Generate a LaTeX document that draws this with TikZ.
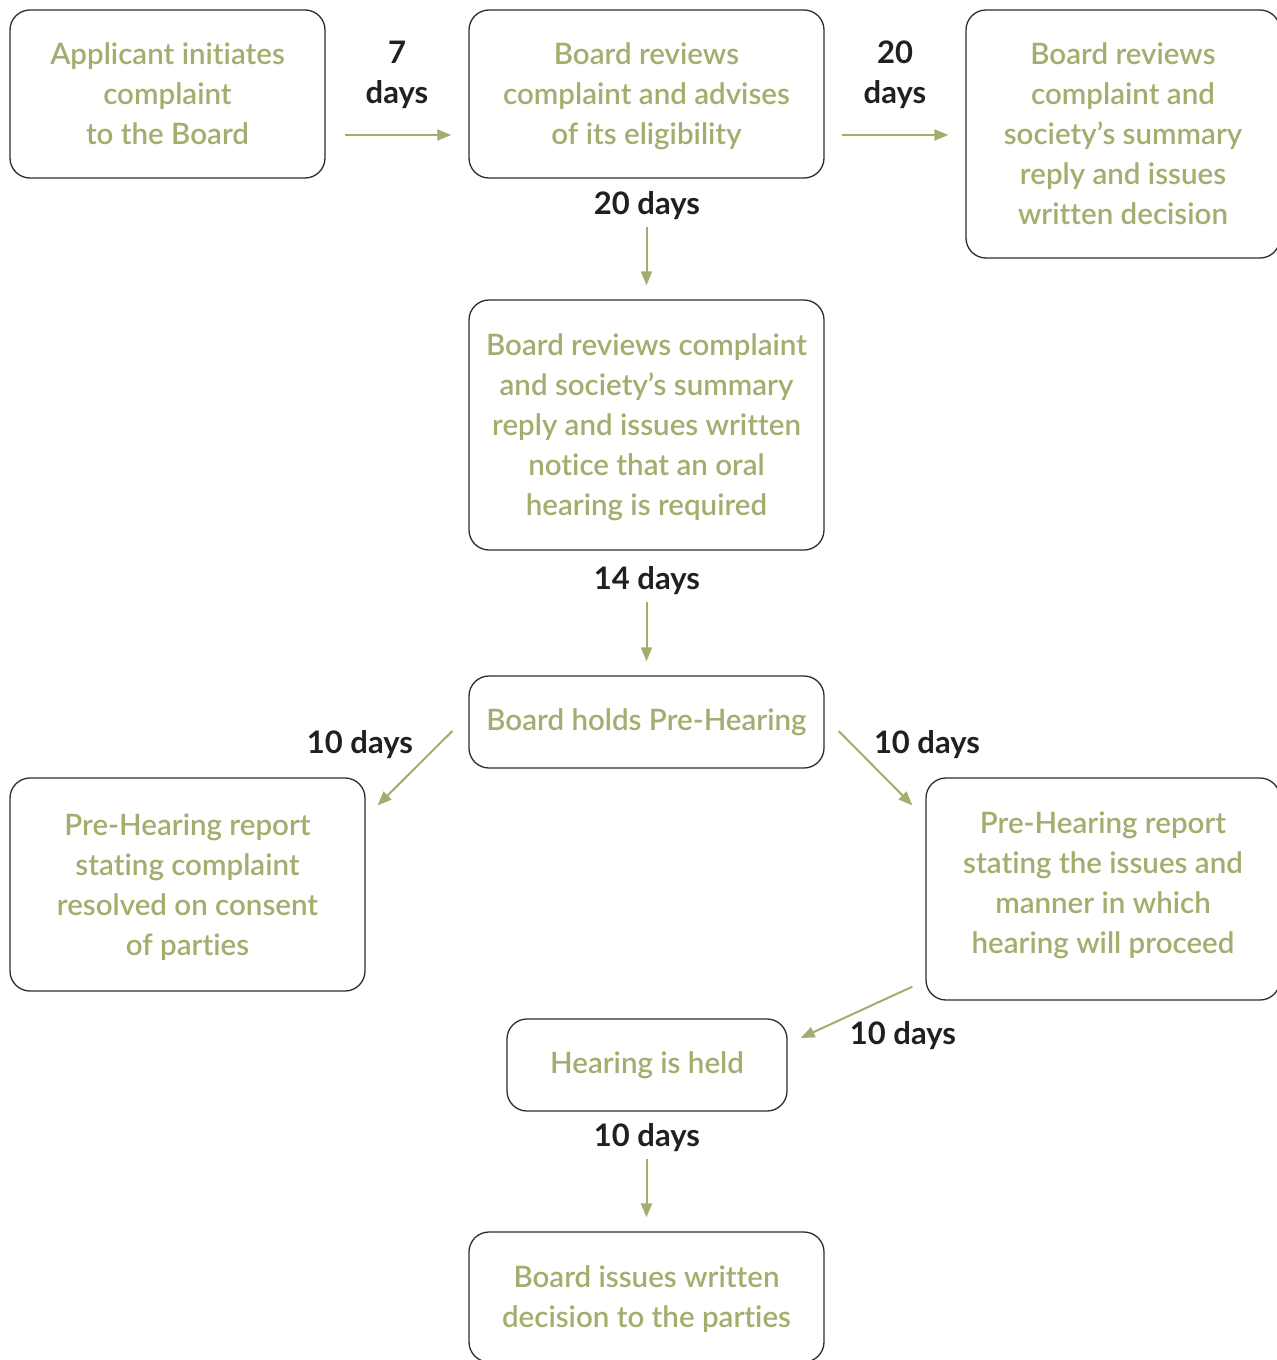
\documentclass[tikz,border=0pt]{standalone}
\usepackage{fontspec}
\setmainfont{Lato}[UprightFont=* Semibold, BoldFont=* Bold, Ligatures=NoCommon]
\usepackage{xcolor}
\usetikzlibrary{arrows.meta,calc}

\definecolor{sage}{RGB}{163,173,110}
\definecolor{inkdark}{RGB}{35,31,32}
\definecolor{boxline}{RGB}{45,45,45}

\tikzset{
  stepbox/.style={draw=boxline, line width=1.3pt, rounded corners=20pt, align=center,
    text=sage, font=\fontsize{29.5}{40}\selectfont, inner sep=0pt,
    execute at begin node=\strut, execute at end node=\strut},
  tallbox/.style={stepbox, text depth=0pt},
  daylabel/.style={text=inkdark, align=center, font=\bfseries\fontsize{31}{40}\selectfont, inner sep=0pt},
  flow/.style={draw=sage, line width=2pt, -{Triangle[length=14pt,width=11pt]}}
}

\begin{document}
\begin{tikzpicture}[x=1pt,y=-1pt]
\useasboundingbox (0,0) rectangle (1277,1360);

%top row
\node[tallbox, minimum width=315pt, minimum height=168pt] (apply) at (167.5,94) {Applicant initiates\\complaint\\to the Board};
\node[tallbox, minimum width=355pt, minimum height=168pt] (elig) at (646.5,94) {Board reviews\\complaint and advises\\of its eligibility};
\node[tallbox, minimum width=314pt, minimum height=248pt] (decide) at (1123,134) {Board reviews\\complaint and\\society's summary\\reply and issues\\written decision};

\node[daylabel] (d7) at (397,75) {7\\days};
\node[daylabel] (d20a) at (895,75) {20\\days};
\draw[flow] ([shift={(19,41)}]apply.east) -- ([shift={(-17,41)}]elig.west);
\draw[flow] ([shift={(17,41)}]elig.east) -- ([shift={(-17,41)}]decide.west |- elig.east);

%middle column
\node[daylabel] (d20b) at (647,206) {20 days};
\node[tallbox, minimum width=355pt, minimum height=250pt] (oral) at (646.5,425) {Board reviews complaint\\and society's summary\\reply and issues written\\notice that an oral\\hearing is required};
\draw[flow, shorten <=7pt, shorten >=14pt] (d20b.south -| oral.north) -- (oral.north);

\node[daylabel] (d14) at (647,581) {14 days};
\node[stepbox, minimum width=355pt, minimum height=92pt] (pre) at (646.5,722) {Board holds Pre-Hearing};
\draw[flow, shorten <=7pt, shorten >=14pt] (d14.south -| pre.north) -- (pre.north);

%split after pre-hearing
\node[tallbox, minimum width=355pt, minimum height=213pt] (settled) at (187.5,884.5) {Pre-Hearing report\\stating complaint\\resolved on consent\\of parties};
\node[stepbox, minimum width=354pt, minimum height=222pt] (proceed) at (1103,889) {Pre-Hearing report\\stating the issues and\\manner in which\\hearing will proceed};
\node[daylabel] (d10a) at (360,745) {10 days};
\node[daylabel] (d10b) at (927,745) {10 days};
\draw[flow] ([shift={(-16,9)}]pre.west) -- ([shift={(12,28)}]settled.north east);
\draw[flow] ([shift={(14,9)}]pre.east) -- ([shift={(-13,28)}]proceed.north west);

%hearing
\node[stepbox, minimum width=280pt, minimum height=92pt] (held) at (647,1065) {Hearing is held};
\node[daylabel] (d10c) at (903,1036) {10 days};
\draw[flow] ([shift={(-13,-14)}]proceed.south west) -- ([shift={(13,-27)}]held.east);

\node[daylabel] (d10d) at (647,1138) {10 days};
\node[tallbox, minimum width=355pt, minimum height=130pt] (final) at (646.5,1297) {Board issues written\\decision to the parties};
\draw[flow, shorten <=7pt, shorten >=14pt] (d10d.south -| final.north) -- (final.north);
\end{tikzpicture}
\end{document}
